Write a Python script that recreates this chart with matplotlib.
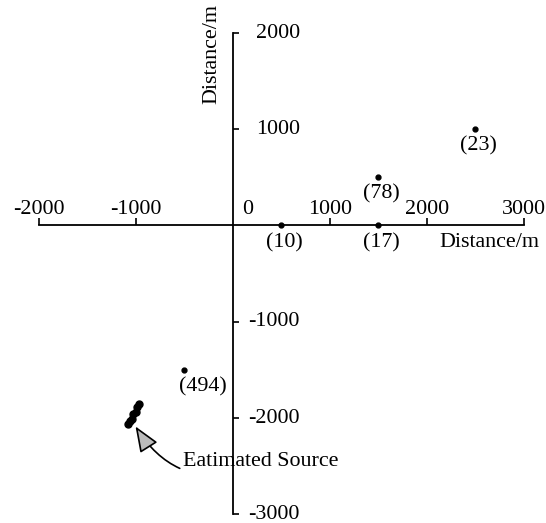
import matplotlib
matplotlib.use("Agg")
import matplotlib.pyplot as plt
from matplotlib.transforms import ScaledTranslation

# sensor positions (m) and their labels
sensor_x = [500, 1500, 1500, 2500, -500]
sensor_y = [0, 0, 500, 1000, -1500]
sensor_lbl = ["(10)", "(17)", "(78)", "(23)", "(494)"]

# estimated source solutions
src_x = [-965, -990, -1000, -1030, -1040, -1065, -1080]
src_y = [-1860, -1890, -1940, -1965, -2010, -2035, -2065]
src_tip = (-1005, -2090)
src_text = "Eatimated Source"

xticks = [-2000, -1000, 1000, 2000, 3000]
xticklabels = ["-2000", "-1000", "1000", "2000", "3000"]
yticks = [-3000, -2000, -1000, 1000, 2000]
yticklabels = ["-3000", "-2000", "-1000", "1000", "2000"]

plt.rcParams['font.family'] = ['Liberation Serif', 'DejaVu Serif']
plt.rcParams['font.size'] = 15.8

fig = plt.figure(figsize=(5.46, 5.23), dpi=100)
ax = fig.add_axes([0, 0, 1, 1])
ax.set_xlim(-2402, 3227)
ax.set_ylim(-3094, 2343)

# axes crossing at the origin
for s in ['bottom', 'top', 'left', 'right']:
    ax.spines[s].set_position(('data', 0))
ax.spines['bottom'].set_visible(False)
ax.spines['left'].set_visible(False)
ax.spines['top'].set_bounds(-2000, 3000)
ax.spines['right'].set_bounds(-3000, 2000)
for s in ['top', 'right']:
    ax.spines[s].set_linewidth(1.3)

ax.xaxis.set_ticks_position('top')
ax.yaxis.set_ticks_position('right')
ax.set_xticks(xticks)
ax.set_xticklabels(xticklabels)
ax.set_yticks(yticks)
ax.set_yticklabels(yticklabels)
ax.tick_params(axis='x', direction='out', length=5, width=1.2, pad=-0.5)
ax.tick_params(axis='y', direction='out', length=4.5, width=1.2, pad=43.5)
for lbl in ax.get_yticklabels():
    lbl.set_ha('right')
    lbl.set_va('center_baseline')
    # small nudge so the bottom label is not clipped
    lbl.set_transform(lbl.get_transform() +
                      ScaledTranslation(0, 1.5 / 72, fig.dpi_scale_trans))

ax.annotate("0", xy=(0, 0), xytext=(15, 11), textcoords='offset pixels',
            ha='center', va='baseline')

ax.text(3159, -176, "Distance/m", ha='right', va='center')
ax.text(-215, 1782, "Distance/m", rotation=90, ha='center', va='center')

# sensors
ax.plot(sensor_x, sensor_y, 'o', color='black', markersize=3.5,
        linestyle='none', zorder=3)
for x, y, t in zip(sensor_x, sensor_y, sensor_lbl):
    dx = 18 if t == "(494)" else 3
    ax.annotate(t, xy=(x, y), xytext=(dx, -17), textcoords='offset pixels',
                ha='center', va='center')

# source cluster
ax.plot(src_x, src_y, 'o', color='black', markersize=5, linestyle='none',
        zorder=3)
ax.annotate(src_text, xy=src_tip, xytext=(-520, -2456),
            ha='left', va='center',
            arrowprops=dict(arrowstyle='-|>,head_length=1.0,head_width=0.4',
                            connectionstyle='arc3,rad=-0.45',
                            facecolor='#bbbbbb', edgecolor='black',
                            lw=1.2, shrinkA=0, shrinkB=0))

fig.savefig("out.png", dpi=100)
